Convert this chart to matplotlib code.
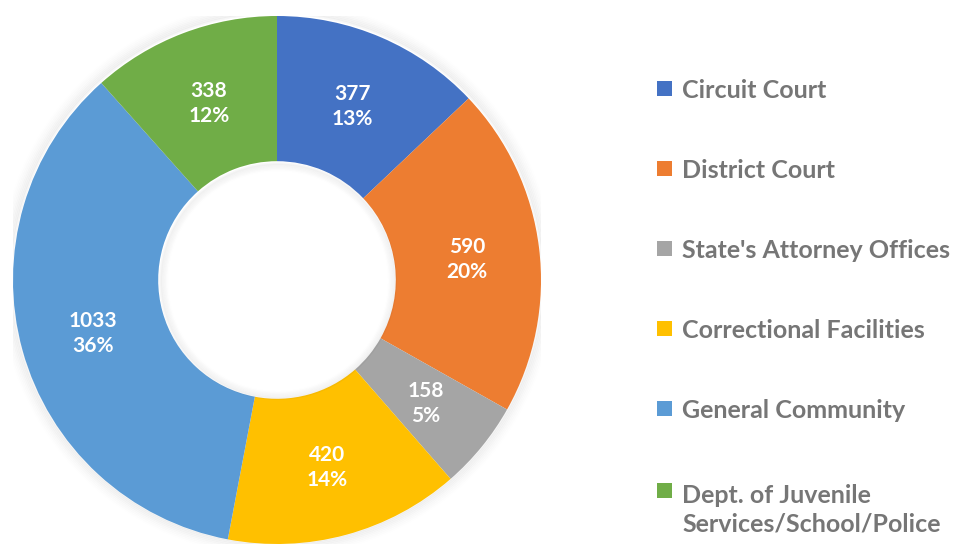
import numpy as np
import matplotlib.pyplot as plt
from matplotlib.patches import Rectangle, Circle

categories = ["Circuit Court", "District Court", "State's Attorney Offices",
              "Correctional Facilities", "General Community",
              "Dept. of Juvenile\nServices/School/Police"]
counts = [377, 590, 158, 420, 1033, 338]
pct_labels = ["13%", "20%", "5%", "14%", "36%", "12%"]
colors = ["#4472C4", "#ED7D31", "#A5A5A5", "#FFC000", "#5B9BD5", "#70AD47"]

W, H = 955, 544
fig = plt.figure(figsize=(W / 100, H / 100), dpi=100)

# donut centre and radius in pixels
cx, cy, r = 277, 280, 264
ax = fig.add_axes([(cx - r) / W, (H - cy - r) / H, 2 * r / W, 2 * r / H])

# soft shadow round the ring
for k in range(8):
    rad = 1.0 + 0.006 * (k + 1)
    ax.add_patch(Circle((0, 0.005), rad, facecolor="none",
                        edgecolor="#000000", linewidth=2.0,
                        alpha=0.035 * (1 - k / 8), zorder=0))

wedges, _ = ax.pie(counts, colors=colors, startangle=90, counterclock=False,
                   radius=1.0, wedgeprops=dict(width=0.55, linewidth=0))

# faint inner shadow of the hole
for k in range(6):
    rad = 0.45 - 0.005 * (k + 1)
    ax.add_patch(Circle((0.004, -0.004), rad, facecolor="none",
                        edgecolor="#000000", linewidth=2.0,
                        alpha=0.03 * (1 - k / 6), zorder=3))

total = sum(counts)
ang = 90.0
for n, p in zip(counts, pct_labels):
    span = n / total * 360
    mid = np.deg2rad(ang - span / 2)
    rr = 0.725
    ax.text(rr * np.cos(mid), rr * np.sin(mid) - 0.01, "%d\n%s" % (n, p),
            ha="center", va="center", color="white", fontsize=15,
            fontweight="bold", family="Lato", linespacing=1.3, zorder=5)
    ang -= span

ax.set_xlim(-1, 1)
ax.set_ylim(-1, 1)
ax.set_aspect("equal")
ax.axis("off")

# legend drawn by hand
legend_y = [89, 169, 249, 329, 409, 491]
for lab, col, y in zip(categories, colors, legend_y):
    fig.patches.append(Rectangle((657 / W, 1 - (y + 7) / H), 15 / W, 15 / H,
                                 transform=fig.transFigure, facecolor=col,
                                 edgecolor="none"))
    nl = lab.count("\n")
    fig.text(682 / W, 1 - (y + 9 + 32 * nl) / H, lab, ha="left",
             va="baseline", color="#767676", fontsize=18,
             fontweight="bold", family="Lato", linespacing=1.3)

fig.savefig("out.png", dpi=100)
